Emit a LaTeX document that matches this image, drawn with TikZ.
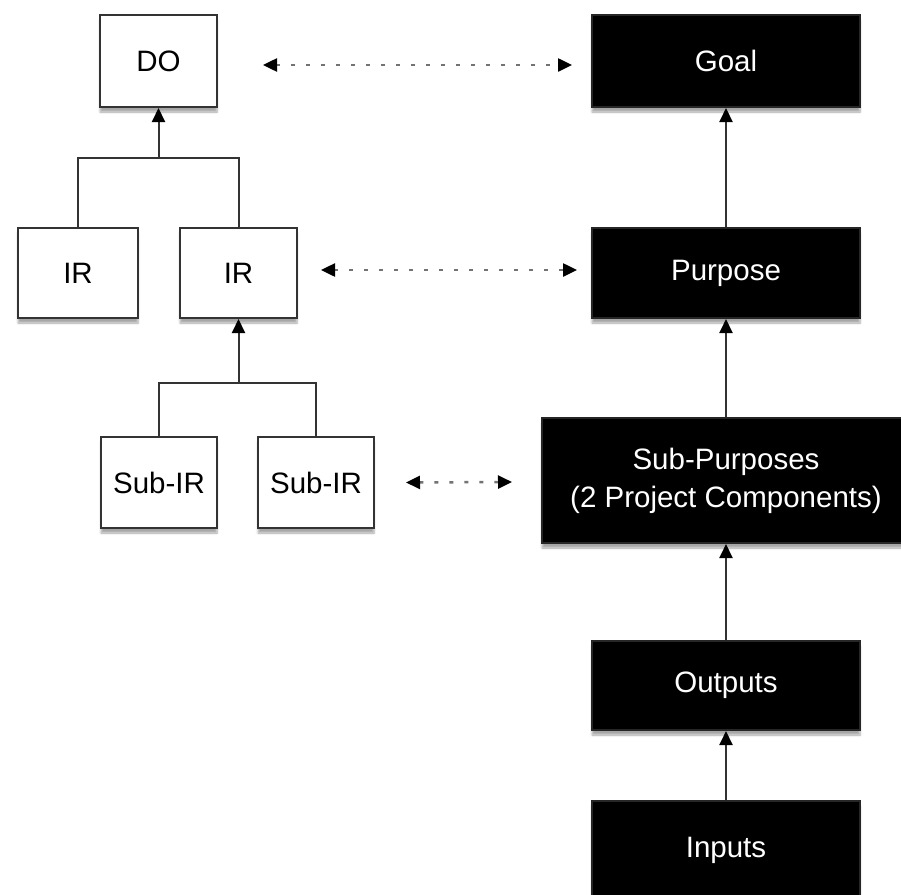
\documentclass[tikz,border=0pt]{standalone}
\usepackage{fontspec}
\setmainfont{Liberation Sans}
\usetikzlibrary{arrows.meta,shadows.blur}
\begin{document}
\begin{tikzpicture}[x=1pt,y=1pt,
  base/.style={rectangle, inner sep=0pt, line width=2pt, align=center,
    font=\fontsize{29.5}{38}\selectfont,
    blur shadow={shadow xshift=0pt, shadow yshift=-5pt, shadow blur steps=6, shadow opacity=35}},
  wbox/.style={base, draw=black!80, fill=white, text=black},
  bbox/.style={base, draw=black!85, fill=black, text=white},
  tip/.style={Triangle[length=14pt,width=13pt,color=black]},
  arr/.style={line width=2pt, draw=black!80, -{Triangle[length=14pt,width=13pt,color=black]}},
  link/.style={line width=2pt, draw=black!80},
  dasharr/.style={line width=2.5pt, draw=black!55, dash pattern=on 4pt off 11pt,
    {Triangle[length=14pt,width=13pt,color=black]}-{Triangle[length=14pt,width=13pt,color=black]}}
]
\useasboundingbox (0,0) rectangle (901,-894);
% left column
\node[wbox, minimum width=117pt, minimum height=92pt] (do) at (158.5,-61) {DO};
\node[wbox, minimum width=120pt, minimum height=90pt] (irl) at (78,-273) {IR};
\node[wbox, minimum width=117pt, minimum height=90pt] (irr) at (238.5,-273) {IR};
\node[wbox, minimum width=116pt, minimum height=91pt] (sub1) at (159,-482.5) {Sub-IR};
\node[wbox, minimum width=116pt, minimum height=91pt] (sub2) at (316,-482.5) {Sub-IR};
% right column
\node[bbox, minimum width=268pt, minimum height=92pt] (goal) at (726,-61) {Goal};
\node[bbox, minimum width=268pt, minimum height=90pt] (purp) at (726,-273) {Purpose};
\node[bbox, minimum width=368pt, minimum height=125pt] (subp) at (726,-480.5) {Sub-Purposes\\(2 Project Components)};
\node[bbox, minimum width=268pt, minimum height=89pt] (outp) at (726,-685.5) {Outputs};
\node[bbox, minimum width=268pt, minimum height=98pt] (inp) at (726,-850) {Inputs};
% tree connectors
\coordinate (j1) at (do.south |- 0,-158);
\coordinate (j2) at (irr.south |- 0,-383);
\draw[link] (irl.north) |- (j1) -| (irr.north);
\draw[arr] (j1) -- (do.south);
\draw[link] (sub1.north) |- (j2) -| (sub2.north);
\draw[arr] (j2) -- (irr.south);
% right chain
\draw[arr] (inp.north) -- (outp.south);
\draw[arr] (outp.north) -- (subp.south -| outp.south);
\draw[arr] (subp.north -| purp.south) -- (purp.south);
\draw[arr] (purp.north) -- (goal.south);
% dashed correspondences
\draw[dasharr] ([xshift=45pt,yshift=-4pt]do.east) -- ([xshift=-19pt,yshift=-4pt]goal.west);
\draw[dasharr] ([xshift=23pt,yshift=3pt]irr.east) -- ([xshift=-14pt,yshift=3pt]purp.west);
\draw[dasharr] ([xshift=31pt]sub2.east) -- ([xshift=-29pt,yshift=-1.5pt]subp.west);
\end{tikzpicture}
\end{document}
